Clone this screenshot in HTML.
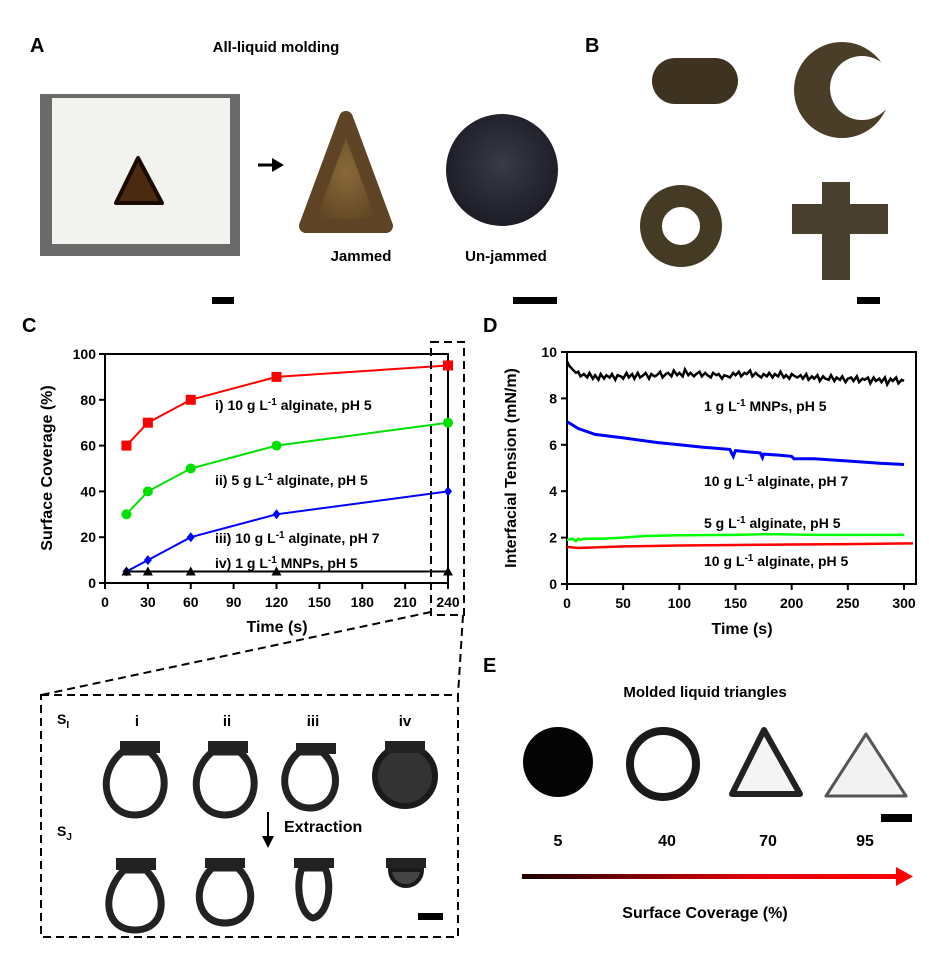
<!DOCTYPE html>
<html><head><meta charset="utf-8">
<style>
body{margin:0;background:#fff;}
svg{display:block;font-family:"Liberation Sans",Arial,sans-serif;font-weight:bold;}
</style></head>
<body>
<svg id="fig" width="929" height="963" viewBox="0 0 929 963">
<defs>
<linearGradient id="gr" x1="0" x2="1"><stop offset="0" stop-color="#1a0000"/><stop offset="0.6" stop-color="#e00000"/><stop offset="1" stop-color="#ff0000"/></linearGradient>
<radialGradient id="brown" cx="0.5" cy="0.5" r="0.6"><stop offset="0" stop-color="#8a6a3a"/><stop offset="1" stop-color="#5a4020"/></radialGradient>
<radialGradient id="dark" cx="0.5" cy="0.45" r="0.6"><stop offset="0" stop-color="#3a3a48"/><stop offset="1" stop-color="#1a1a24"/></radialGradient>
<mask id="crm"><rect x="780" y="30" width="120" height="120" fill="#fff"/><circle cx="862" cy="88" r="32" fill="#000"/></mask>
</defs>
<!-- Panel A -->
<g>
<text x="30" y="52" font-size="20">A</text>
<text x="276" y="52" font-size="15" text-anchor="middle">All-liquid molding</text>
<rect x="40" y="94" width="200" height="162" fill="#6a6a6a"/>
<rect x="52" y="98" width="178" height="146" fill="#f2f2ee"/>
<polygon points="138,158 116,203 162,203" fill="#4a2a10" stroke="#1a0a00" stroke-width="4" stroke-linejoin="round"/>
<line x1="258" y1="165" x2="276" y2="165" stroke="#000" stroke-width="3"/>
<polygon points="284,165 272,158 272,172" fill="#000"/>
<polygon points="346,118 306,226 386,226" fill="url(#brown)" stroke="#5e4424" stroke-width="14" stroke-linejoin="round"/>
<circle cx="502" cy="170" r="56" fill="url(#dark)"/>
<text x="361" y="261" font-size="15" text-anchor="middle">Jammed</text>
<text x="506" y="261" font-size="15" text-anchor="middle">Un-jammed</text>
<rect x="212" y="297" width="22" height="7" fill="#000"/>
<rect x="513" y="297" width="44" height="7" fill="#000"/>
</g>
<!-- Panel B -->
<g>
<text x="585" y="52" font-size="20">B</text>
<rect x="652" y="58" width="86" height="46" rx="23" fill="#3e3220"/>
<circle cx="842" cy="90" r="48" fill="#4a3e28" mask="url(#crm)"/>
<circle cx="681" cy="226" r="30" fill="none" stroke="#453a24" stroke-width="22"/>
<path d="M822,182 h28 v22 h38 v30 h-38 v46 h-28 v-46 h-30 v-30 h30 z" fill="#4a4030"/>
<rect x="857" y="297" width="23" height="7" fill="#000"/>
</g>
<text x="22" y="332" font-size="20">C</text>
<text x="483" y="332" font-size="20">D</text>
<text x="483" y="672" font-size="20">E</text>
<g id="chartC"></g>
<g id="chartD"></g>
<!-- zoom callout -->
<g fill="none" stroke="#000" stroke-width="2" stroke-dasharray="8,5">
<rect x="431" y="342" width="33" height="273"/>
<line x1="431" y1="612" x2="41" y2="695"/>
<line x1="463" y1="615" x2="458" y2="695"/>
<rect x="41" y="695" width="417" height="242"/>
</g>
<g>
<text x="57" y="724" font-size="14">S<tspan font-size="10" dy="4">I</tspan></text>
<text x="57" y="836" font-size="14">S<tspan font-size="10" dy="4">J</tspan></text>
<text x="137" y="726" font-size="15" text-anchor="middle">i</text>
<text x="227" y="726" font-size="15" text-anchor="middle">ii</text>
<text x="313" y="726" font-size="15" text-anchor="middle">iii</text>
<text x="405" y="726" font-size="15" text-anchor="middle">iv</text>
<g fill="#fff" stroke="#222" stroke-width="7">
<path d="M122,752 C95,775 105,815 135,815 C165,815 175,775 150,752 Z"/>
<path d="M212,752 C185,775 195,815 225,815 C255,815 265,775 240,752 Z"/>
<path d="M299,752 C275,772 283,808 310,808 C337,808 345,772 322,752 Z"/>
<path d="M124,870 C100,895 105,930 135,930 C165,930 170,895 146,870 Z"/>
<path d="M212,868 C190,890 198,923 225,923 C252,923 260,890 238,868 Z"/>
<path d="M302,868 C295,885 300,915 313,918 C328,915 333,885 325,868 Z"/>
</g>
<circle cx="405" cy="776" r="30" fill="#333" stroke="#1a1a1a" stroke-width="6"/>
<path d="M390,870 A16,16 0 0 0 422,870 Z" fill="#444" stroke="#1a1a1a" stroke-width="4"/>
<g fill="#222">
<rect x="120" y="741" width="40" height="12"/><rect x="208" y="741" width="40" height="12"/><rect x="296" y="743" width="40" height="11"/><rect x="385" y="741" width="40" height="12"/>
<rect x="116" y="858" width="40" height="12"/><rect x="205" y="858" width="40" height="10"/><rect x="294" y="858" width="40" height="10"/><rect x="386" y="858" width="40" height="10"/>
</g>
<line x1="268" y1="812" x2="268" y2="838" stroke="#000" stroke-width="2"/>
<polygon points="262,836 274,836 268,848" fill="#000"/>
<text x="284" y="832" font-size="16">Extraction</text>
<rect x="418" y="913" width="25" height="7" fill="#000"/>
</g>
<!-- Panel E -->
<g>
<text x="705" y="697" font-size="15" text-anchor="middle">Molded liquid triangles</text>
<circle cx="558" cy="762" r="35" fill="#050505"/>
<circle cx="663" cy="764" r="33" fill="none" stroke="#1a1a1a" stroke-width="8"/>
<polygon points="764,730 732,794 800,794" fill="#f4f4f4" stroke="#222" stroke-width="6" stroke-linejoin="round"/>
<polygon points="866,734 826,796 906,796" fill="#f2f2f2" stroke="#555" stroke-width="3" stroke-linejoin="round"/>
<rect x="881" y="814" width="31" height="8" fill="#000"/>
<text x="558" y="846" font-size="16" text-anchor="middle">5</text>
<text x="667" y="846" font-size="16" text-anchor="middle">40</text>
<text x="768" y="846" font-size="16" text-anchor="middle">70</text>
<text x="865" y="846" font-size="16" text-anchor="middle">95</text>
<rect x="522" y="874" width="376" height="5" fill="url(#gr)"/>
<polygon points="896,867 913,876.5 896,886" fill="#ff0000"/>
<text x="705" y="918" font-size="16" text-anchor="middle">Surface Coverage (%)</text>
</g>
</svg>
<script>
// ---- Chart C data ----
const cTimes = [15, 30, 60, 120, 240];
const cSeriesI = [60, 70, 80, 90, 95];
const cSeriesII = [30, 40, 50, 60, 70];
const cSeriesIII = [5, 10, 20, 30, 40];
const cSeriesIV = [5, 5, 5, 5, 5];
const cXTicks = [0, 30, 60, 90, 120, 150, 180, 210, 240];
const cYTicks = [0, 20, 40, 60, 80, 100];
// ---- Chart D data ----
const dBlackT = [0,2,4,6,8,10,12,15,18,20,23,25,28,30,33,35,38,40,43,45,48,50,53,55,58,60,63,65,68,70,73,75,78,80,83,85,88,90,93,95,98,100,103,105,108,110,113,115,118,120,123,125,128,130,133,135,138,140,143,145,148,150,153,155,158,160,163,165,168,170,173,175,178,180,183,185,188,190,193,195,198,200,203,205,208,210,213,215,218,220,223,225,228,230,233,235,238,240,243,245,248,250,253,255,258,260,263,265,268,270,273,275,278,280,283,285,288,290,293,295,298,300];
const dBlackV = [9.6,9.4,9.3,9.2,9.1,9.15,8.95,9.05,8.9,9.1,8.85,9.0,8.8,9.05,8.85,9.0,8.9,9.05,8.8,9.0,8.95,8.85,9.1,8.9,9.05,8.85,9.1,8.9,9.0,9.1,8.85,9.05,8.95,9.0,9.15,8.9,9.05,9.1,8.95,9.2,9.0,9.1,8.95,9.25,9.0,9.1,8.95,9.05,9.15,8.95,9.1,9.0,8.9,9.1,9.0,9.05,8.85,9.0,8.95,8.9,9.1,9.0,9.15,8.95,9.1,9.05,9.2,8.95,9.1,9.0,8.9,9.05,8.95,9.1,8.9,9.05,8.95,9.15,8.9,9.0,8.85,9.05,8.95,8.9,9.0,8.85,9.05,8.8,8.95,8.85,9.0,8.75,8.95,8.85,8.8,9.0,8.75,8.9,8.8,8.95,8.7,8.85,8.9,8.75,8.95,8.7,8.85,8.8,8.9,8.65,8.9,8.75,8.85,8.7,8.9,8.6,8.85,8.75,8.9,8.65,8.8,8.75];
const dBlueT = [0,10,25,50,80,100,120,145,148,150,160,172,174,175,190,200,202,220,250,280,300];
const dBlueV = [7.0,6.7,6.45,6.3,6.1,6.0,5.9,5.8,5.5,5.75,5.7,5.65,5.45,5.6,5.55,5.5,5.4,5.4,5.3,5.2,5.15];
const dGreenT = [0,5,8,10,12,15,30,50,70,100,150,180,220,260,300];
const dGreenV = [1.9,1.95,1.85,1.95,1.9,1.95,1.95,2.0,2.07,2.1,2.12,2.15,2.12,2.12,2.12];
const dRedT = [0,10,50,100,150,200,250,308];
const dRedV = [1.6,1.55,1.62,1.66,1.68,1.7,1.72,1.75];
const dXTicks = [0, 50, 100, 150, 200, 250, 300];
const dYTicks = [0, 2, 4, 6, 8, 10];

const NS = 'http://www.w3.org/2000/svg';
function mk(parent, tag, attrs, text) {
  const e = document.createElementNS(NS, tag);
  for (const k in attrs) e.setAttribute(k, attrs[k]);
  if (text !== undefined) e.textContent = text;
  parent.appendChild(e);
  return e;
}
// ---------- Chart C ----------
const gC = document.getElementById('chartC');
const cx = v => 105 + (v / 240) * 343;
const cy = v => 583 - (v / 100) * 229;
let e;
e = mk(gC, 'path', {d: `M105,354 V583 H448 V354 Z`, fill: 'none', stroke: '#000', 'stroke-width': 2});


cXTicks.forEach(t => {
  mk(gC, 'line', {x1: cx(t), y1: 583, x2: cx(t), y2: 589, stroke: '#000', 'stroke-width': 2});
  e = mk(gC, 'text', {x: cx(t), y: 607, 'font-size': 14, 'text-anchor': 'middle'}, t);
  
  
});
cYTicks.forEach(t => {
  mk(gC, 'line', {x1: 99, y1: cy(t), x2: 105, y2: cy(t), stroke: '#000', 'stroke-width': 2});
  e = mk(gC, 'text', {x: 96, y: cy(t) + 5, 'font-size': 14, 'text-anchor': 'end'}, t);
  
  
});
e = mk(gC, 'text', {x: 277, y: 632, 'font-size': 16, 'text-anchor': 'middle'}, 'Time (s)');


e = mk(gC, 'text', {x: 0, y: 0, 'font-size': 16, 'text-anchor': 'middle', transform: 'translate(52,468) rotate(-90)'}, 'Surface Coverage (%)');


function seriesC(vals, color, shape, name) {
  const pts = cTimes.map((t, i) => [cx(t), cy(vals[i])]);
  e = mk(gC, 'polyline', {points: pts.map(p => p.join(',')).join(' '), fill: 'none', stroke: color, 'stroke-width': 2});
  
  
  pts.forEach(p => {
    if (shape === 'sq') e = mk(gC, 'rect', {x: p[0] - 5, y: p[1] - 5, width: 10, height: 10, fill: color});
    else if (shape === 'ci') e = mk(gC, 'circle', {cx: p[0], cy: p[1], r: 5, fill: color});
    else if (shape === 'di') e = mk(gC, 'polygon', {points: `${p[0]},${p[1]-5} ${p[0]+4},${p[1]} ${p[0]},${p[1]+5} ${p[0]-4},${p[1]}`, fill: color});
    else e = mk(gC, 'polygon', {points: `${p[0]},${p[1]-5} ${p[0]+5},${p[1]+4} ${p[0]-5},${p[1]+4}`, fill: color});
    
    
  });
}
seriesC(cSeriesI, '#ff0000', 'sq', 'series-i');
seriesC(cSeriesII, '#00e000', 'ci', 'series-ii');
seriesC(cSeriesIII, '#0000ff', 'di', 'series-iii');
seriesC(cSeriesIV, '#000000', 'tr', 'series-iv');
function supLabel(g, x, y, pre, post, name) {
  const t = mk(g, 'text', {x: x, y: y, 'font-size': 14});
  t.appendChild(document.createTextNode(pre));
  mk(t, 'tspan', {dy: -5, 'font-size': 10}, '-1');
  mk(t, 'tspan', {dy: 5}, post);
  
  
}
supLabel(gC, 215, 410, 'i) 10 g L', ' alginate, pH 5', 'label-series-i');
supLabel(gC, 215, 485, 'ii) 5 g L', ' alginate, pH 5', 'label-series-ii');
supLabel(gC, 215, 543, 'iii) 10 g L', ' alginate, pH 7', 'label-series-iii');
supLabel(gC, 215, 568, 'iv) 1 g L', ' MNPs, pH 5', 'label-series-iv');
// ---------- Chart D ----------
const gD = document.getElementById('chartD');
const dx = v => 567 + (v / 300) * 337;
const dy = v => 584 - (v / 10) * 232;
e = mk(gD, 'path', {d: `M567,352 V584 H916 V352 Z`, fill: 'none', stroke: '#000', 'stroke-width': 2});


dXTicks.forEach(t => {
  mk(gD, 'line', {x1: dx(t), y1: 584, x2: dx(t), y2: 590, stroke: '#000', 'stroke-width': 2});
  e = mk(gD, 'text', {x: dx(t), y: 608, 'font-size': 14, 'text-anchor': 'middle'}, t);
  
  
});
dYTicks.forEach(t => {
  mk(gD, 'line', {x1: 561, y1: dy(t), x2: 567, y2: dy(t), stroke: '#000', 'stroke-width': 2});
  e = mk(gD, 'text', {x: 557, y: dy(t) + 5, 'font-size': 14, 'text-anchor': 'end'}, t);
  
  
});
e = mk(gD, 'text', {x: 742, y: 634, 'font-size': 16, 'text-anchor': 'middle'}, 'Time (s)');


e = mk(gD, 'text', {x: 0, y: 0, 'font-size': 16, 'text-anchor': 'middle', transform: 'translate(516,468) rotate(-90)'}, 'Interfacial Tension (mN/m)');


function lineD(ts, vs, color, w, name) {
  e = mk(gD, 'polyline', {points: ts.map((t, i) => dx(t) + ',' + dy(vs[i])).join(' '), fill: 'none', stroke: color, 'stroke-width': w});
  
  
}
lineD(dBlackT, dBlackV, '#000', 2.5, 'mnp-ph5-line');
lineD(dBlueT, dBlueV, '#0000ff', 3, 'alginate10-ph7-line');
lineD(dGreenT, dGreenV, '#00ff00', 2.5, 'alginate5-ph5-line');
lineD(dRedT, dRedV, '#ff0000', 2.5, 'alginate10-ph5-line');
supLabel(gD, 704, 411, '1 g L', ' MNPs, pH 5', 'label-mnp-ph5');
supLabel(gD, 704, 486, '10 g L', ' alginate, pH 7', 'label-alginate10-ph7');
supLabel(gD, 704, 528, '5 g L', ' alginate, pH 5', 'label-alginate5-ph5');
supLabel(gD, 704, 566, '10 g L', ' alginate, pH 5', 'label-alginate10-ph5');
</script>
</body></html>
